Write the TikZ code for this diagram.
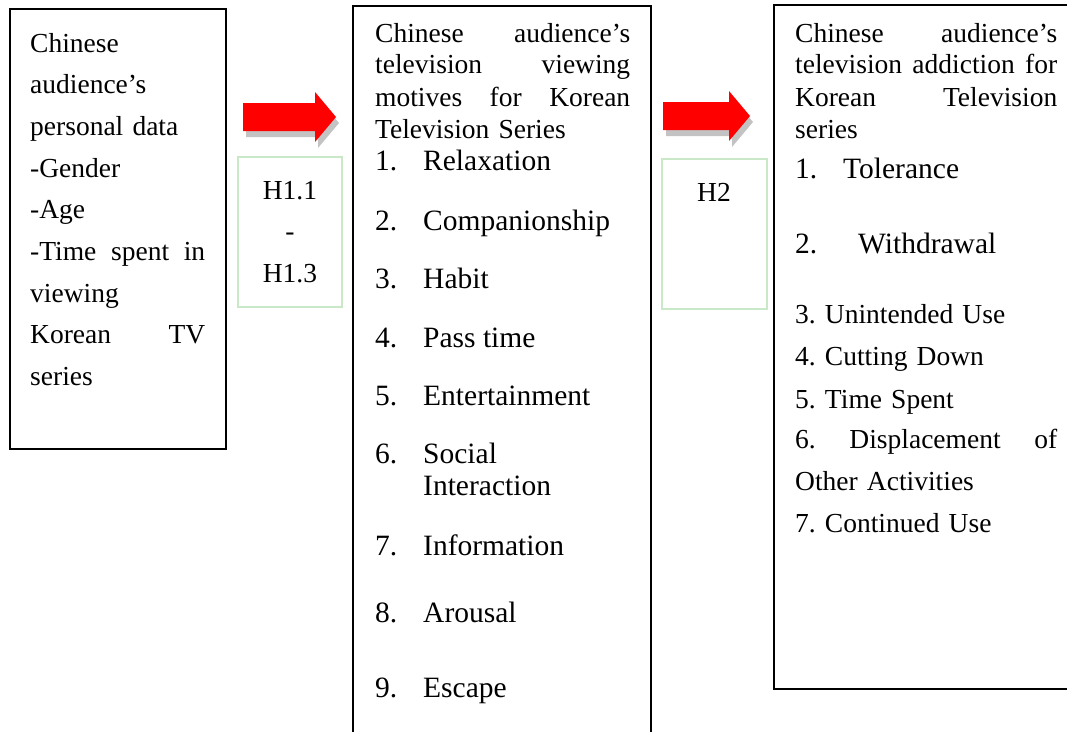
\documentclass[tikz,border=0pt]{standalone}
\usepackage{fontspec}
\setmainfont{Liberation Serif}
\frenchspacing

\definecolor{hgreen}{RGB}{200,232,200}
\definecolor{shadowgray}{RGB}{195,195,195}
\definecolor{arrowred}{RGB}{255,0,0}

\tikzset{
  frame/.style={draw, line width=1.5pt, anchor=north west, inner sep=0pt, outer sep=0pt},
  hypo/.style={draw=hgreen, line width=1.3pt, anchor=north west, inner sep=0pt, outer sep=0pt},
  txt/.style={anchor=base west, inner sep=0pt, font=\fontsize{27.5}{33}\selectfont},
  itxt/.style={txt, font=\fontsize{29.5}{35}\selectfont},
  jtxt/.style={txt, text width=#1, align=left},
  htxt/.style={anchor=base, inner sep=0pt, font=\fontsize{27.5}{33}\selectfont}
}

\begin{document}
\begin{tikzpicture}[x=1pt,y=-1pt]
  \useasboundingbox (0,0) rectangle (1067,731);

  % the three frames
  \node[frame, minimum width=216pt, minimum height=440pt] (personal)  at (10,9)  {};
  \node[frame, minimum width=298pt, minimum height=760pt] (motives)   at (353,6) {};
  \node[frame, minimum width=320pt, minimum height=684pt] (addiction) at (774,5) {};

  % hypothesis boxes
  \node[hypo, minimum width=104pt, minimum height=150pt] (h1) at (238,157) {};
  \node[hypo, minimum width=105pt, minimum height=150pt] (h2) at (662,159) {};

  % block arrows with their shadow
  \foreach \x/\y/\l in {243/103/72, 663/102/66}{
    \fill[shadowgray, shift={(\x+3,\y+6)}]
      (0,0) -- (\l,0) -- (\l,-11) -- (\l+21,14) -- (\l,39) -- (\l,28) -- (0,28) -- cycle;
    \fill[arrowred, shift={(\x,\y)}]
      (0,0) -- (\l,0) -- (\l,-11) -- (\l+21,14) -- (\l,39) -- (\l,28) -- (0,28) -- cycle;
  }

  % personal data
  \foreach \y/\t [count=\i] in {52/Chinese, 93/audience’s, 135/personal data,
      177/-Gender, 218/-Age, 260/-Time\hfill spent\hfill in, 302/viewing,
      343/Korean\hfill TV, 385/series}
    \node[jtxt=175pt] (p\i) at (30,\y) {\t};

  % viewing motives
  \foreach \y/\t [count=\i] in {42/Chinese\hfill audience’s, 73/television\hfill viewing,
      106/motives\hfill for\hfill Korean, 138/Television Series}
    \node[jtxt=255pt] (m\i) at (375,\y) {\t};
  \foreach \y/\n/\t [count=\i] in {170/1./Relaxation, 230/2./Companionship, 288/3./Habit,
      347/4./Pass time, 405/5./Entertainment, 463/6./Social, 495//Interaction,
      555/7./Information, 622/8./Arousal, 697/9./Escape}
    \node[itxt] (mi\i) at (375,\y) {\makebox[48pt][l]{\n}\t};

  % television addiction
  \foreach \y/\t [count=\i] in {42/Chinese\hfill audience’s, 73/television\hfill addiction\hfill for,
      106/Korean\hfill Television, 138/series, 323/3. Unintended Use, 365/4. Cutting Down,
      408/5. Time Spent, 448/6.\hfill Displacement\hfill of, 490/Other Activities,
      532/7. Continued Use}
    \node[jtxt=262pt] (a\i) at (795,\y) {\t};
  \node[itxt] (tol) at (795,178) {\makebox[48pt][l]{1.}Tolerance};
  \node[itxt] (wd)  at (795,253) {\makebox[63pt][l]{2.}Withdrawal};

  % hypothesis labels
  \node[htxt] (h11)   at (290,199) {H1.1};
  \node[htxt] (hdash) at (290,240) {-};
  \node[htxt] (h13)   at (290,282) {H1.3};
  \node[htxt] (h2t)   at (714,201) {H2};
\end{tikzpicture}
\end{document}
